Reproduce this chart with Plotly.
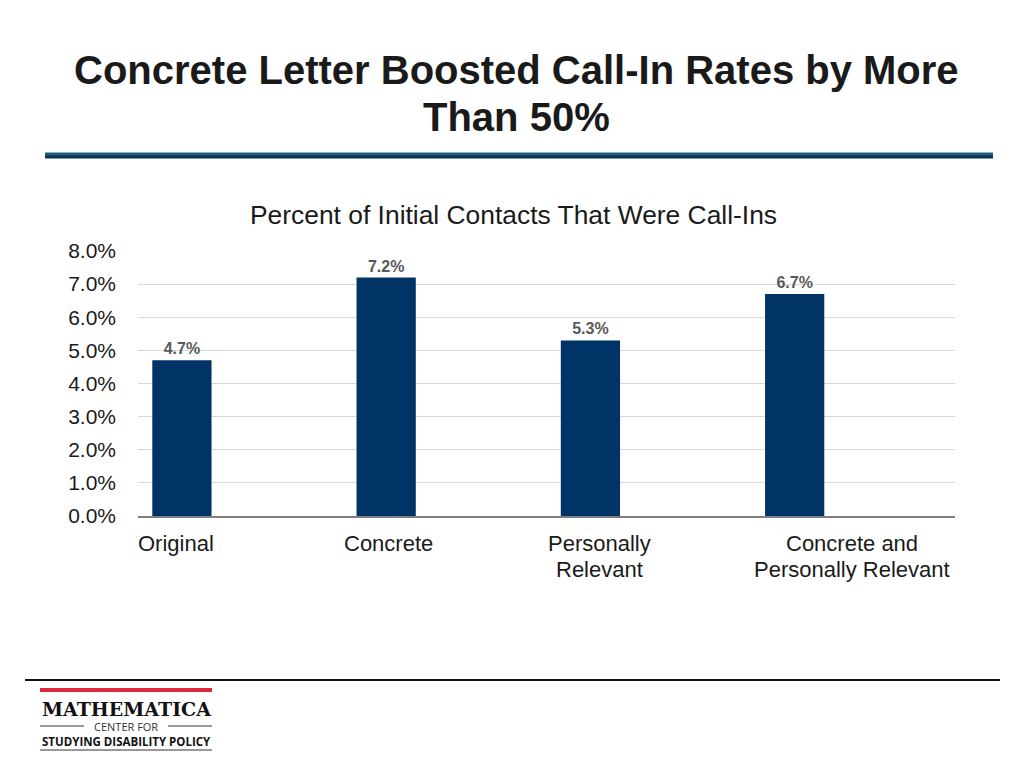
import plotly.graph_objects as go

categories = ["Original", "Concrete", "Personally<br>Relevant", "Concrete and<br>Personally Relevant"]
values = [4.7, 7.2, 5.3, 6.7]
value_labels = ["4.7%", "7.2%", "5.3%", "6.7%"]
tick_vals = [0, 1, 2, 3, 4, 5, 6, 7, 8]
tick_text = ["0.0%", "1.0%", "2.0%", "3.0%", "4.0%", "5.0%", "6.0%", "7.0%", "8.0%"]

title_lines = ["Concrete Letter Boosted Call-In Rates by More", "Than 50%"]
subtitle_text = "Percent of Initial Contacts That Were Call-Ins"

# page body has an 8px default margin
OFF = 8
W, H = 1024 - OFF, 768 - OFF
L, R, T, B = 138 - OFF, 955 - OFF, 251 - OFF, 516 - OFF

def px(x):
    return (x - OFF - L) / (R - L)

def py(y):
    return (B - (y - OFF)) / (B - T)

fig = go.Figure()
fig.add_trace(go.Bar(
    x=categories, y=values,
    text=value_labels, textposition="outside",
    textfont=dict(family="Liberation Sans, Arial", size=16, color="#595959"),
    texttemplate="<b>%{text}</b>",
    marker=dict(color="#003366", line=dict(width=0)),
    width=0.29, offset=-0.43,
    cliponaxis=False,
    hoverinfo="skip",
))

fig.update_layout(
    width=W, height=H,
    margin=dict(l=L, r=W - R, t=T, b=H - B, pad=0),
    paper_bgcolor="white", plot_bgcolor="white",
    showlegend=False,
    font=dict(family="Liberation Sans, Arial", color="black"),
    xaxis=dict(
        type="category", showticklabels=False, showgrid=False,
        showline=True, linecolor="#7f7f7f", linewidth=1.5,
        range=[-0.5, 3.5], fixedrange=True,
    ),
    yaxis=dict(
        range=[0, 8], tickvals=tick_vals, ticktext=tick_text,
        tickfont=dict(size=21, color="#1a1a1a"),
        showgrid=True, gridcolor="#d9d9d9", gridwidth=1,
        zeroline=False, showline=False, ticks="", ticklabelstandoff=21,
    ),
)

# Category labels (PowerPoint-style placement), one annotation per line
label_shift = [-64, -56, -49, -1]
for cat, dx in zip(categories, label_shift):
    for i, line in enumerate(cat.split("<br>")):
        fig.add_annotation(
            x=cat, xref="x", y=py(543 + 26 * i), yref="paper", yanchor="middle",
            text=line, showarrow=False, xshift=dx, align="center",
            font=dict(size=22, color="#1a1a1a"),
        )

# Title
for i, line in enumerate(title_lines):
    fig.add_annotation(
        x=px(516), y=py(70 + 47 * i), xref="paper", yref="paper",
        xanchor="center", yanchor="middle",
        text="<b>" + line + "</b>", showarrow=False, align="center",
        font=dict(size=40, color="#1a1a1a"),
    )
fig.add_annotation(
    x=px(513), y=py(215), xref="paper", yref="paper",
    xanchor="center", yanchor="middle",
    text=subtitle_text, showarrow=False,
    font=dict(size=26.4, color="#1a1a1a"),
)

# Decorative lines
fig.add_shape(type="line", xref="paper", yref="paper",
              x0=px(45), x1=px(993), y0=py(156), y1=py(156),
              line=dict(color="#0b2e4a", width=5))
fig.add_shape(type="line", xref="paper", yref="paper",
              x0=px(45), x1=px(993), y0=py(154), y1=py(154),
              line=dict(color="#1c5a80", width=3))
fig.add_shape(type="line", xref="paper", yref="paper",
              x0=px(25), x1=px(1000), y0=py(680), y1=py(680),
              line=dict(color="#111111", width=2))

# Logo
fig.add_shape(type="rect", xref="paper", yref="paper",
              x0=px(40), x1=px(212), y0=py(692), y1=py(688),
              fillcolor="#e0283c", line=dict(width=0))
fig.add_annotation(x=px(126), y=py(709), xref="paper", yref="paper",
                   xanchor="center", yanchor="middle",
                   text="<b>MATHEMATICA</b>", showarrow=False,
                   font=dict(family="DejaVu Serif", size=19, color="#111111"))
fig.add_shape(type="line", xref="paper", yref="paper",
              x0=px(40), x1=px(84), y0=py(726), y1=py(726),
              line=dict(color="#333333", width=1))
fig.add_shape(type="line", xref="paper", yref="paper",
              x0=px(168), x1=px(212), y0=py(726), y1=py(726),
              line=dict(color="#333333", width=1))
fig.add_annotation(x=px(126), y=py(726), xref="paper", yref="paper",
                   xanchor="center", yanchor="middle",
                   text="CENTER FOR", showarrow=False,
                   font=dict(family="Open Sans", size=11, color="#333333"))
fig.add_annotation(x=px(126), y=py(741), xref="paper", yref="paper",
                   xanchor="center", yanchor="middle",
                   text="<b>STUDYING DISABILITY POLICY</b>", showarrow=False,
                   font=dict(family="Open Sans", size=11.5, color="#111111"))
fig.add_shape(type="line", xref="paper", yref="paper",
              x0=px(40), x1=px(212), y0=py(750), y1=py(750),
              line=dict(color="#333333", width=1))

fig.write_html("out.html")
